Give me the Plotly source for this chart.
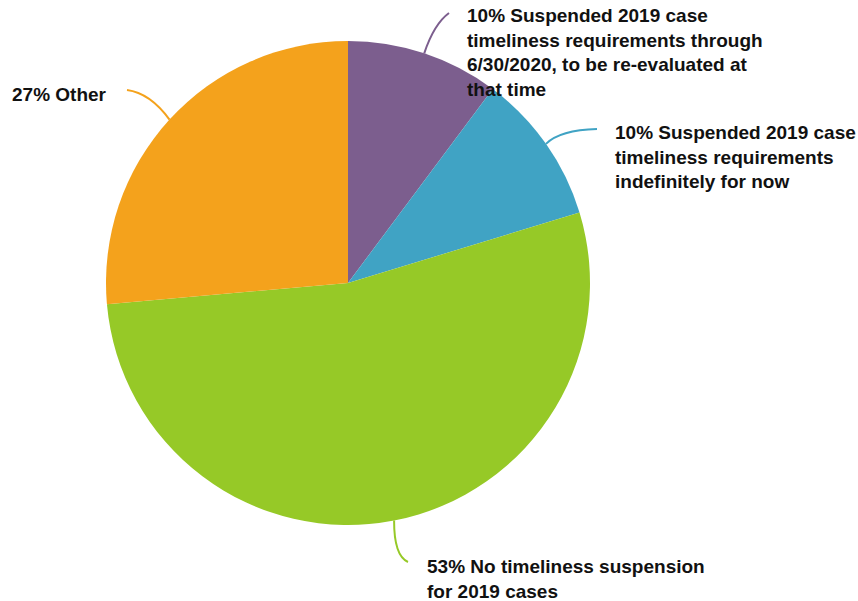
import math
import plotly.graph_objects as go

W, H = 858, 601

labels = [
    "Suspended 2019 case timeliness requirements through 6/30/2020, to be re-evaluated at that time",
    "Suspended 2019 case timeliness requirements indefinitely for now",
    "No timeliness suspension for 2019 cases",
    "Other",
]
# slice sizes
values = [10.2, 10.1, 53.3, 26.4]
colors = ["#7C5E8E", "#40A3C4", "#96C927", "#F4A21C"]
label_texts = [
    "10% Suspended 2019 case<br>timeliness requirements through<br>6/30/2020, to be re-evaluated at<br>that time",
    "10% Suspended 2019 case<br>timeliness requirements<br>indefinitely for now",
    "53% No timeliness suspension<br>for 2019 cases",
    "27% Other",
]

# layout (pixels)
cx, cy, R = 348, 283, 242
label_pos = [(465, 3), (613, 120), (425, 554), (10, 82)]
line_end = [(449, 13), (597, 129), (408, 562), (127, 90)]
line_ctrl = [(434, 24), (560, 130), (394, 556), (150, 93)]


def px(x, y):
    return x / W, 1 - y / H


dom_x = [(cx - R) / W, (cx + R) / W]
dom_y = [1 - (cy + R) / H, 1 - (cy - R) / H]

fig = go.Figure(go.Pie(
    labels=labels, values=values, sort=False, direction="clockwise", rotation=0,
    marker=dict(colors=colors, line=dict(width=0)),
    textinfo="none", hoverinfo="label", showlegend=False,
    domain=dict(x=dom_x, y=dom_y),
))

total = sum(values)
cum = 0
shapes = []
annotations = []
for i, v in enumerate(values):
    mid = (cum + v / 2) / total * 2 * math.pi
    cum += v
    sx = cx + R * math.sin(mid)
    sy = cy - R * math.cos(mid)
    ex, ey = line_end[i]
    qx, qy = line_ctrl[i]
    p0 = px(sx, sy); p1 = px(qx, qy); p2 = px(ex, ey)
    shapes.append(dict(
        type="path", xref="paper", yref="paper",
        path=f"M {p0[0]},{p0[1]} Q {p1[0]},{p1[1]} {p2[0]},{p2[1]}",
        line=dict(color=colors[i], width=2),
    ))
    lx, ly = px(*label_pos[i])
    annotations.append(dict(
        x=lx, y=ly, xref="paper", yref="paper", xanchor="left", yanchor="top",
        align="left", showarrow=False, text=label_texts[i],
        font=dict(family="Liberation Sans, Arial, sans-serif", size=19, color="#111111", weight="bold"),
    ))

fig.update_layout(
    width=W, height=H, margin=dict(l=0, r=0, t=0, b=0),
    paper_bgcolor="white", plot_bgcolor="white",
    shapes=shapes, annotations=annotations,
)

fig.write_html("out.html")
